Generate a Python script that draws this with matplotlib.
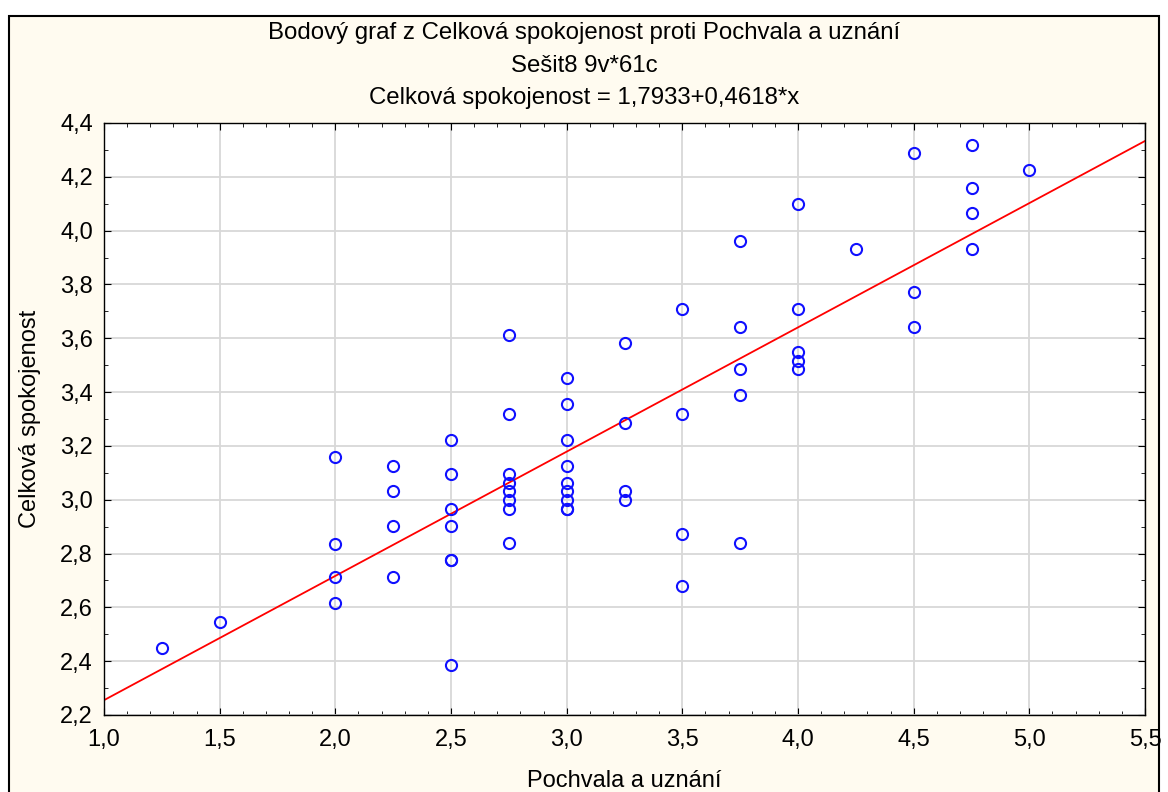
import matplotlib.pyplot as plt
from matplotlib.patches import Rectangle
from matplotlib.ticker import MultipleLocator, FuncFormatter

plt.rcParams['font.family'] = ['Liberation Sans', 'DejaVu Sans']

# Pochvala a uznání (x) vs Celková spokojenost (y)
x_vals = [1.25, 1.5,
          2.0, 2.0, 2.0, 2.0,
          2.25, 2.25, 2.25, 2.25,
          2.5, 2.5, 2.5, 2.5, 2.5, 2.5, 2.5,
          2.75, 2.75, 2.75, 2.75, 2.75, 2.75, 2.75, 2.75,
          3.0, 3.0, 3.0, 3.0, 3.0, 3.0, 3.0, 3.0, 3.0,
          3.25, 3.25, 3.25, 3.25,
          3.5, 3.5, 3.5, 3.5,
          3.75, 3.75, 3.75, 3.75, 3.75,
          4.0, 4.0, 4.0, 4.0, 4.0,
          4.25,
          4.5, 4.5, 4.5,
          4.75, 4.75, 4.75, 4.75,
          5.0]
y_vals = [2.448, 2.545,
          3.159, 2.837, 2.711, 2.616,
          3.127, 3.031, 2.902, 2.711,
          3.222, 3.095, 2.966, 2.902, 2.775, 2.775, 2.386,
          3.612, 3.317, 3.095, 3.063, 3.031, 2.998, 2.966, 2.840,
          3.451, 3.355, 3.222, 3.126, 3.063, 3.031, 2.998, 2.966, 2.966,
          3.581, 3.286, 3.031, 2.998,
          3.707, 3.317, 2.871, 2.679,
          3.962, 3.643, 3.484, 3.389, 2.839,
          4.098, 3.707, 3.548, 3.516, 3.484,
          3.930,
          4.287, 3.771, 3.643,
          4.319, 4.160, 4.064, 3.930,
          4.224]

# regresní přímka
b0 = 1.7933
b1 = 0.4618
x_line = [1.0, 5.5]
y_line = [b0 + b1 * v for v in x_line]

fig = plt.figure(figsize=(11.68, 7.92), dpi=100)
fig.patch.set_facecolor('white')
fig.patches.append(Rectangle((9 / 1168, -0.05), 1150 / 1168, 1.05 - 16 / 792,
                             transform=fig.transFigure, facecolor='#fffbf0',
                             edgecolor='black', linewidth=1.5, zorder=-5))

ax = fig.add_axes([104 / 1168, 1 - 715 / 792, (1145 - 104) / 1168, (715 - 123) / 792])
ax.set_facecolor('white')

ax.plot(x_line, y_line, color='#ff0000', linewidth=1.3, zorder=2)
ax.plot(x_vals, y_vals, linestyle='none', marker='o', markersize=8,
        markerfacecolor='none', markeredgecolor='#1010ff', markeredgewidth=1.5, zorder=3)

ax.set_xlim(1.0, 5.5)
ax.set_ylim(2.2, 4.4)
ax.xaxis.set_major_locator(MultipleLocator(0.5))
ax.xaxis.set_minor_locator(MultipleLocator(0.1))
ax.yaxis.set_major_locator(MultipleLocator(0.2))
ax.yaxis.set_minor_locator(MultipleLocator(0.1))
comma = FuncFormatter(lambda v, p: f"{v:.1f}".replace('.', ','))
ax.xaxis.set_major_formatter(comma)
ax.yaxis.set_major_formatter(comma)
ax.tick_params(which='both', direction='in', top=True, right=True, labelsize=17)
ax.tick_params(axis='x', pad=10)
ax.tick_params(axis='y', pad=8)
ax.tick_params(which='major', length=5)
ax.tick_params(which='minor', length=3)
ax.grid(True, which='major', color='#d8d8d8', linewidth=1.3, zorder=1)
ax.set_axisbelow(True)
for s in ax.spines.values():
    s.set_linewidth(1.0)

ax.set_xlabel('Pochvala a uznání', fontsize=17, labelpad=14)
ax.set_ylabel('Celková spokojenost', fontsize=17, labelpad=14)

fig.text(0.5, 1 - 33 / 792, 'Bodový graf z Celková spokojenost proti Pochvala a uznání',
         ha='center', va='center', fontsize=17.3)
fig.text(0.5, 1 - 66 / 792, 'Sešit8 9v*61c', ha='center', va='center', fontsize=17.3)
fig.text(0.5, 1 - 98 / 792, 'Celková spokojenost = 1,7933+0,4618*x',
         ha='center', va='center', fontsize=17.3)

fig.savefig('out.png', dpi=100)
